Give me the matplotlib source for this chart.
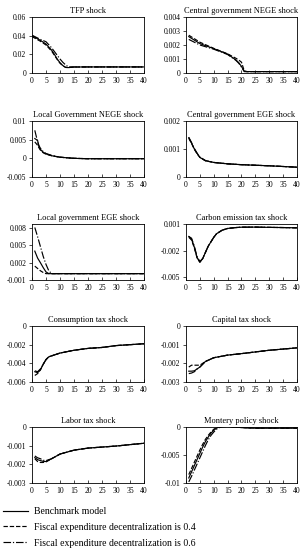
import matplotlib
matplotlib.use("Agg")
import matplotlib.pyplot as plt

plt.rcParams['font.family'] = ['Liberation Serif', 'DejaVu Serif']

# Datos: periodos y respuestas (modelo base, descentralizacion 0.4, 0.6)
titles = ['TFP shock', 'Central government NEGE shock',
          'Local Government NEGE shock', 'Central government EGE shock',
          'Local government EGE shock', 'Carbon emission tax shock',
          'Consumption tax shock', 'Capital tax shock',
          'Labor tax shock', 'Montery policy shock']
labels = ['Benchmark model',
          'Fiscal expenditure decentralization is 0.4',
          'Fiscal expenditure decentralization is 0.6']

# TFP
tfp_t = [0, 3, 5, 7, 8, 9, 10, 11, 12, 13, 15, 20, 30, 40]
tfp_base = [0.040, 0.035, 0.031, 0.0245, 0.020, 0.015, 0.011, 0.008, 0.006, 0.0058, 0.0064, 0.0065, 0.0065, 0.0065]
tfp_04 = [0.039, 0.034, 0.030, 0.0235, 0.019, 0.0145, 0.0105, 0.0078, 0.006, 0.0058, 0.0064, 0.0065, 0.0065, 0.0065]
tfp_06 = [0.0405, 0.036, 0.0335, 0.027, 0.023, 0.019, 0.015, 0.0115, 0.0087, 0.0065, 0.0065, 0.0065, 0.0065, 0.0065]

# Central government NEGE
cn_t = [1, 5, 10, 15, 18, 19, 20, 21, 22, 30, 40]
cn_base = [0.0026, 0.0021, 0.00174, 0.00135, 0.00093, 0.00074, 0.00047, 0.00012, 0.0001, 0.0001, 0.0001]
cn_04 = [0.0027, 0.0022, 0.00176, 0.00137, 0.00105, 0.00093, 0.00077, 0.00015, 0.0001, 0.0001, 0.0001]
cn_06 = [0.0024, 0.0020, 0.00170, 0.00132, 0.00090, 0.00070, 0.00042, 0.0001, 0.0001, 0.0001, 0.0001]

# Local government NEGE
ln_t = [1, 2, 2.5, 3, 4, 5, 7, 10, 15, 20, 30, 40]
ln_base = [0.0053, 0.0048, 0.0030, 0.0024, 0.0016, 0.0012, 0.0007, 0.0003, 0.0, -0.0001, -0.0001, -0.0001]
ln_04 = [0.0044, 0.0035, 0.0028, 0.0022, 0.0015, 0.0011, 0.0007, 0.0003, 0.0, -0.0001, -0.0001, -0.0001]
ln_06 = [0.0075, 0.0044, 0.0034, 0.0027, 0.0018, 0.0013, 0.0008, 0.0003, 0.0, -0.0001, -0.0001, -0.0001]

# Central government EGE
ce_t = [1, 2, 3, 4, 5, 7, 10, 15, 20, 30, 40]
ce_base = [0.0014, 0.00121, 0.0010, 0.00084, 0.0007, 0.00058, 0.00052, 0.00047, 0.00044, 0.0004, 0.00035]
ce_04 = [0.00138, 0.0012, 0.00099, 0.00083, 0.0007, 0.00058, 0.00052, 0.00047, 0.00044, 0.0004, 0.00035]
ce_06 = [0.00142, 0.00123, 0.00102, 0.00085, 0.00071, 0.00059, 0.00052, 0.00047, 0.00044, 0.0004, 0.00035]

# Local government EGE
le_t = [1, 2, 3, 4, 5, 6, 7, 10, 20, 30, 40]
le_base = [0.0040, 0.0028, 0.0020, 0.00115, 0.0004, 0.0001, 0.0001, 0.0001, 0.0001, 0.0001, 0.0001]
le_04 = [0.0014, 0.0010, 0.0006, 0.0003, 0.0001, 0.0001, 0.0001, 0.0001, 0.0001, 0.0001, 0.0001]
le_06 = [0.0081, 0.0065, 0.0048, 0.0031, 0.0017, 0.0006, 0.0001, 0.0001, 0.0001, 0.0001, 0.0001]

# Carbon emission tax
co_t = [1, 2, 3, 4, 5, 6, 7, 8, 9, 10, 11, 12, 13, 15, 18, 20, 25, 30, 35, 40]
co_base = [-0.0004, -0.0007, -0.0016, -0.0028, -0.0033, -0.0029, -0.0022, -0.0015, -0.0010, -0.0005,
           -0.0001, 0.0001, 0.0003, 0.0005, 0.0006, 0.00064, 0.00065, 0.00062, 0.0006, 0.00057]
co_04 = [-0.0005, -0.0008, -0.0017, -0.0028, -0.0033, -0.0029, -0.0022, -0.0015, -0.0010, -0.0005,
         -0.0001, 0.0001, 0.0003, 0.0005, 0.0006, 0.00064, 0.00065, 0.00062, 0.0006, 0.00057]
co_06 = [-0.0004, -0.0006, -0.0015, -0.0027, -0.0032, -0.0029, -0.0022, -0.0015, -0.0010, -0.0005,
         -0.0001, 0.0001, 0.0003, 0.0005, 0.0006, 0.00064, 0.00065, 0.00062, 0.0006, 0.00057]

# Consumption tax
cs_t = [1, 2, 3, 4, 5, 6, 8, 10, 15, 20, 25, 30, 35, 40]
cs_base = [-0.0049, -0.0050, -0.0047, -0.0041, -0.0036, -0.0033, -0.0031, -0.0029, -0.0026, -0.0024, -0.0023, -0.0021, -0.0020, -0.0019]
cs_04 = [-0.0053, -0.0051, -0.0047, -0.0041, -0.0036, -0.0033, -0.0031, -0.0029, -0.0026, -0.0024, -0.0023, -0.0021, -0.0020, -0.0019]
cs_06 = [-0.0048, -0.0049, -0.0046, -0.0041, -0.0036, -0.0033, -0.0031, -0.0029, -0.0026, -0.0024, -0.0023, -0.0021, -0.0020, -0.0019]

# Capital tax
ca_t = [1, 2, 3, 4, 5, 7, 10, 15, 20, 30, 40]
ca_base = [-0.00242, -0.00242, -0.0024, -0.0023, -0.0022, -0.0019, -0.0017, -0.00156, -0.00148, -0.0013, -0.00117]
ca_04 = [-0.0022, -0.0021, -0.0021, -0.0021, -0.0021, -0.0019, -0.0017, -0.00156, -0.00148, -0.0013, -0.00117]
ca_06 = [-0.00255, -0.00252, -0.00245, -0.0023, -0.0022, -0.0019, -0.0017, -0.00156, -0.00148, -0.0013, -0.00117]

# Labor tax
la_t = [1, 2, 3, 4, 5, 7, 10, 15, 20, 30, 40]
la_base = [-0.00164, -0.00175, -0.0018, -0.00184, -0.00185, -0.0017, -0.00145, -0.00124, -0.00113, -0.00102, -0.00087]
la_04 = [-0.0017, -0.00185, -0.0019, -0.0019, -0.00187, -0.0017, -0.00145, -0.00124, -0.00113, -0.00102, -0.00087]
la_06 = [-0.00155, -0.00165, -0.0017, -0.00178, -0.0018, -0.0017, -0.00145, -0.00124, -0.00113, -0.00102, -0.00087]

# Monetary policy
mo_t = [1, 2, 3, 4, 5, 6, 7, 8, 9, 10, 11, 12, 13, 15, 20, 25, 40]
mo_base = [-0.0091, -0.0080, -0.0069, -0.0058, -0.0047, -0.0036, -0.0026, -0.0018, -0.0011, -0.0006,
           -0.0002, 0.0, 0.0001, 0.0001, -0.0001, -0.0002, -0.0002]
mo_04 = [-0.0085, -0.0074, -0.0063, -0.0052, -0.0041, -0.0031, -0.0022, -0.0015, -0.0009, -0.0004,
         -0.0001, 0.0, 0.0001, 0.0001, -0.0001, -0.0002, -0.0002]
mo_06 = [-0.0098, -0.0088, -0.0077, -0.0066, -0.0055, -0.0044, -0.0033, -0.0023, -0.0015, -0.0009,
         -0.0004, -0.0001, 0.0, 0.0001, -0.0001, -0.0002, -0.0002]

series = [(tfp_t, tfp_base, tfp_04, tfp_06), (cn_t, cn_base, cn_04, cn_06),
          (ln_t, ln_base, ln_04, ln_06), (ce_t, ce_base, ce_04, ce_06),
          (le_t, le_base, le_04, le_06), (co_t, co_base, co_04, co_06),
          (cs_t, cs_base, cs_04, cs_06), (ca_t, ca_base, ca_04, ca_06),
          (la_t, la_base, la_04, la_06), (mo_t, mo_base, mo_04, mo_06)]

yticks = [[0, 0.02, 0.04, 0.06], [0, 0.001, 0.002, 0.003, 0.004],
          [-0.005, 0, 0.005, 0.01], [0, 0.001, 0.002],
          [-0.001, 0.002, 0.005, 0.008], [-0.005, -0.002, 0.001],
          [-0.006, -0.004, -0.002, 0], [-0.003, -0.002, -0.001, 0],
          [-0.003, -0.002, -0.001, 0], [-0.01, -0.005, 0]]
ytlabels = [['0', '0.02', '0.04', '0.06'], ['0', '0.001', '0.002', '0.003', '0.004'],
            ['-0.005', '0', '0.005', '0.01'], ['0', '0.001', '0.002'],
            ['-0.001', '0.002', '0.005', '0.008'], ['-0.005', '-0.002', '0.001'],
            ['-0.006', '-0.004', '-0.002', '0'], ['-0.003', '-0.002', '-0.001', '0'],
            ['-0.003', '-0.002', '-0.001', '0'], ['-0.01', '-0.005', '0']]
ylims = [(0, 0.06), (0, 0.004), (-0.005, 0.01), (0, 0.002), (-0.001, 0.0087),
         (-0.0053, 0.00088), (-0.006, 0), (-0.003, 0), (-0.003, 0), (-0.01, 0)]

W, H = 306, 550
fig = plt.figure(figsize=(W / 100, H / 100), dpi=100)

row_tops = [17, 121, 224, 326, 427]
col_x = [(32, 144), (186, 297)]
styles = ['-', '--', '-.']

axes = []
for i in range(10):
    r, c = divmod(i, 2)
    x0, x1 = col_x[c]
    top = row_tops[r]
    ax = fig.add_axes([x0 / W, 1 - (top + 56) / H, (x1 - x0) / W, 56 / H])
    t, a, b, d = series[i]
    for vals, ls in zip((a, b, d), styles):
        ax.plot(t, vals, color='black', linestyle=ls, linewidth=0.85)
    ax.set_xlim(0, 40)
    ax.set_ylim(*ylims[i])
    ax.set_xticks(range(0, 41, 5))
    ax.set_yticks(yticks[i])
    ax.set_yticklabels(ytlabels[i])
    ax.set_title(titles[i], fontsize=6, pad=3)
    ax.tick_params(axis='x', direction='in', length=2, width=0.5, labelsize=5.5, pad=3)
    ax.tick_params(axis='y', direction='out', length=2, width=0.5, labelsize=5.5, pad=2)
    for s in ax.spines.values():
        s.set_linewidth(0.6)
    axes.append(ax)

handles = axes[0].get_lines()
fig.legend(handles, labels, loc='upper left', bbox_to_anchor=(3 / W, 1 - 507 / H),
           frameon=False, fontsize=7, handlelength=2.6, handletextpad=0.6,
           labelspacing=0.7, borderpad=0, borderaxespad=0)

fig.savefig('out.png', dpi=100)
